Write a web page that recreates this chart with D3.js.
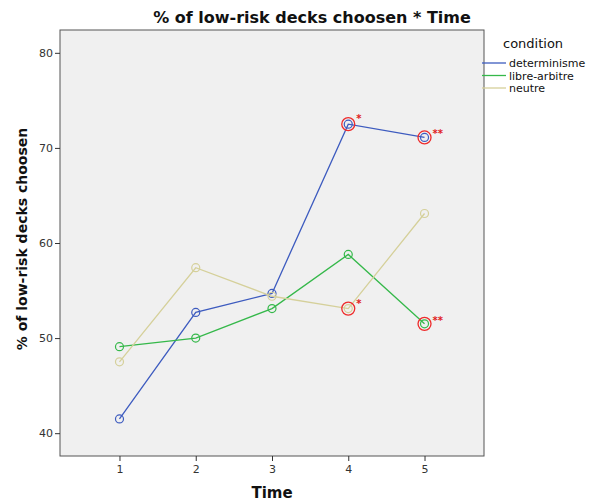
<!DOCTYPE html>
<html>
<head>
<meta charset="utf-8">
<script src="https://cdn.jsdelivr.net/npm/d3@7"></script>
<style>
  body { margin: 0; background: #fff; }
  text { font-family: "DejaVu Sans", sans-serif; }
</style>
</head>
<body>
<svg width="591" height="502"></svg>
<script>
let times = [1, 2, 3, 4, 5];
let conditions = ["determinisme", "libre-arbitre", "neutre"];
let determinisme = [41.5, 52.7, 54.7, 72.5, 71.1];
let libreArbitre = [49.1, 50.0, 53.1, 58.8, 51.5];
let neutre = [47.5, 57.4, 54.4, 53.1, 63.1];
let yTicks = [40, 50, 60, 70, 80];
// significant points: [condition index, time, stars]
let marks = [[0, 4, "*"], [0, 5, "**"], [2, 4, "*"], [1, 5, "**"]];

let colors = ["#3d5bbf", "#35b84a", "#d5d09a"];
let series = [determinisme, libreArbitre, neutre];

let svg = d3.select("svg"),
    margin = {top: 30, right: 107, bottom: 46, left: 60},
    width = +svg.attr("width") - margin.left - margin.right,
    height = +svg.attr("height") - margin.top - margin.bottom;

let x = d3.scalePoint().domain(times).range([0, width]).padding(0.78),
    y = d3.scaleLinear().domain([37.6, 82.4]).range([height, 0]);

let g = svg.append("g")
    .attr("transform", "translate(" + margin.left + "," + margin.top + ")");

g.append("rect")
    .attr("width", width)
    .attr("height", height)
    .attr("fill", "#f0f0f0")
    .attr("stroke", "#555")
    .attr("stroke-width", 1);

let xAxis = g.append("g")
    .attr("transform", "translate(0," + height + ")")
    .call(d3.axisBottom(x).tickSize(5).tickPadding(4));
let yAxis = g.append("g")
    .call(d3.axisLeft(y).tickValues(yTicks).tickSize(5).tickPadding(2));

[xAxis, yAxis].forEach(function(a) {
  a.select(".domain").remove();
  a.selectAll("line").attr("stroke", "#333");
  a.selectAll("text").attr("fill", "#333").style("font-size", "11px")
    .style("font-family", "DejaVu Sans, sans-serif");
});

let line = d3.line()
    .x(function(d, i) { return x(times[i]); })
    .y(function(d) { return y(d); });

series.forEach(function(s, k) {
  g.append("path")
      .datum(s)
      .attr("fill", "none")
      .attr("stroke", colors[k])
      .attr("stroke-width", 1.3)
      .attr("d", line);
  g.selectAll(".pt" + k)
    .data(s)
    .enter().append("circle")
      .attr("class", "pt" + k)
      .attr("cx", function(d, i) { return x(times[i]); })
      .attr("cy", function(d) { return y(d); })
      .attr("r", 4)
      .attr("fill", "none")
      .attr("stroke", colors[k])
      .attr("stroke-width", 1.2);
});

marks.forEach(function(m) {
  let v = series[m[0]][times.indexOf(m[1])];
  g.append("circle")
      .attr("cx", x(m[1]))
      .attr("cy", y(v))
      .attr("r", 6.5)
      .attr("fill", "none")
      .attr("stroke", "#ee2b2b")
      .attr("stroke-width", 1.3);
  g.append("text")
      .attr("x", x(m[1]) + 8)
      .attr("y", y(v) + (m[2].length > 1 ? 0 : -2))
      .attr("fill", "#e02020")
      .style("font-size", "10px")
      .style("font-weight", "bold")
      .text(m[2]);
});

svg.append("text")
    .attr("x", 312)
    .attr("y", 23)
    .attr("text-anchor", "middle")
    .style("font-size", "16px")
    .style("font-weight", "bold")
    .attr("fill", "#111")
    .text("% of low-risk decks choosen * Time");

svg.append("text")
    .attr("x", 272)
    .attr("y", 498)
    .attr("text-anchor", "middle")
    .style("font-size", "15px")
    .style("font-weight", "bold")
    .attr("fill", "#111")
    .text("Time");

svg.append("text")
    .attr("transform", "translate(27,239) rotate(-90)")
    .attr("text-anchor", "middle")
    .style("font-size", "14px")
    .style("font-weight", "bold")
    .attr("fill", "#111")
    .text("% of low-risk decks choosen");

let legend = svg.append("g").attr("transform", "translate(482,0)");
legend.append("text")
    .attr("x", 21)
    .attr("y", 48)
    .style("font-size", "13px")
    .attr("fill", "#111")
    .text("condition");
conditions.forEach(function(c, k) {
  let yy = 63 + k * 12.5;
  legend.append("line")
      .attr("x1", 0).attr("x2", 24)
      .attr("y1", yy).attr("y2", yy)
      .attr("stroke", colors[k])
      .attr("stroke-width", 1.3);
  legend.append("text")
      .attr("x", 27)
      .attr("y", yy + 4)
      .style("font-size", "11px")
      .attr("fill", "#111")
      .text(c);
});
</script>
</body>
</html>
